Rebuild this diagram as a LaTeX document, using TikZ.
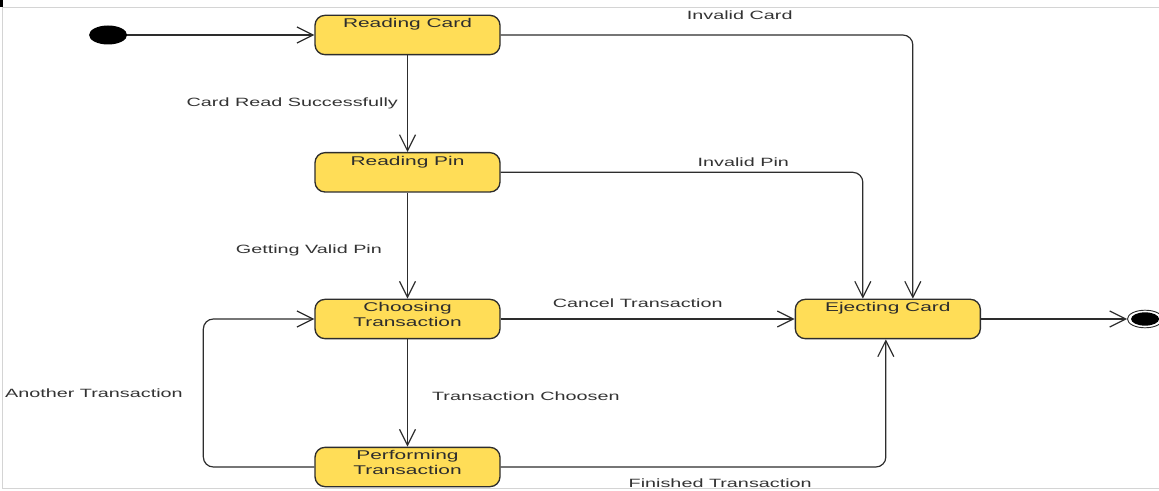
\documentclass[tikz,border=0pt]{standalone}
\usepackage{fontspec}
\setmainfont{Liberation Sans}[FakeStretch=1.65]
\usepackage{xcolor}
\usepackage{tikz}
\usetikzlibrary{arrows.meta,positioning,shapes.geometric}
\definecolor{stateyellow}{RGB}{255,221,87}
\definecolor{edgegray}{RGB}{45,45,45}
\definecolor{labgray}{RGB}{51,51,51}
\definecolor{framegray}{RGB}{212,212,212}
\tikzset{
  state/.style={draw=edgegray, rounded corners=7.5pt, fill=stateyellow, line width=1pt, minimum width=138.75pt, minimum height=29.5pt, inner ysep=1.5pt, align=center, text=edgegray, font=\fontsize{9.5}{11.25}\selectfont},
  stateone/.style={state, text height=7.6pt, text depth=18.4pt},
  statetwo/.style={state, text depth=7pt},
  startdot/.style={ellipse, fill=black, inner sep=0pt, minimum width=28.5pt, minimum height=14.25pt},
  enddot/.style={ellipse, draw=edgegray, line width=0.7pt, inner sep=0pt, minimum width=26.4pt, minimum height=13.2pt, path picture={\fill[black] (path picture bounding box.center) ellipse (10.5pt and 5pt);}},
  lab/.style={font=\fontsize{9}{11}\selectfont, text=labgray, inner sep=1pt},
  arrow/.style={-{Straight Barb[length=12pt,width=12pt]}, line width=0.9pt, draw=edgegray},
}

\begin{document}
\begin{tikzpicture}[x=0.75pt, y=-0.75pt]
\useasboundingbox (0,0) rectangle (1159,491);
% frame of the screenshot
\draw[framegray, line width=0.8pt] (2.5,7.5) -- (1159,7.5);
\draw[framegray, line width=0.8pt] (2.5,7.5) -- (2.5,488.5) -- (1159,488.5);
\draw[black, line width=2pt] (1.5,0) -- (1.5,7);

% states
\node[stateone] (rc) at (407.5,35) {Reading Card};
\node[stateone, below=72.5pt of rc] (rp) {Reading Pin};
\node[statetwo, below=79.5pt of rp] (ct) {Choosing\\Transaction};
\node[statetwo, below=80.5pt of ct] (pt) {Performing\\Transaction};
\node[stateone, right=220.5pt of ct] (ej) {Ejecting Card};
\node[startdot, left=140.25pt of rc] (start) {};
\node[enddot, right=109.5pt of ej] (stop) {};

% transitions
\draw[arrow] (start) -- (rc);
\draw[arrow] (rc) -- node[lab, left=5.75pt] {Card Read Successfully} (rp);
\draw[arrow] (rp) -- node[lab, pos=0.54, left=17.75pt] {Getting Valid Pin} (ct);
\draw[arrow] (ct) -- node[lab, pos=0.53, right=17pt] {Transaction Choosen} (pt);
\draw[arrow] (ct) -- node[lab, pos=0.466, above=7pt] {Cancel Transaction} (ej);
\draw[arrow, rounded corners=7.5pt] (rc.east) -| node[lab, pos=0.29, above=10pt] {Invalid Card} ([xshift=18.75pt]ej.north);
\draw[arrow, rounded corners=7.5pt] (rp.east) -| node[lab, pos=0.335, above=3pt] {Invalid Pin} ([xshift=-18.75pt]ej.north);
\draw[arrow, rounded corners=7.5pt] (pt.east) -| node[lab, pos=0.285, below=7.3pt] {Finished Transaction} ([xshift=-1.5pt]ej.south);
\draw[arrow, rounded corners=7.5pt] (pt.west) -- ++(-111,0) |- node[lab, pos=0.25, left=14pt] {Another Transaction} (ct.west);
\draw[arrow] (ej) -- (stop);
\end{tikzpicture}
\end{document}
